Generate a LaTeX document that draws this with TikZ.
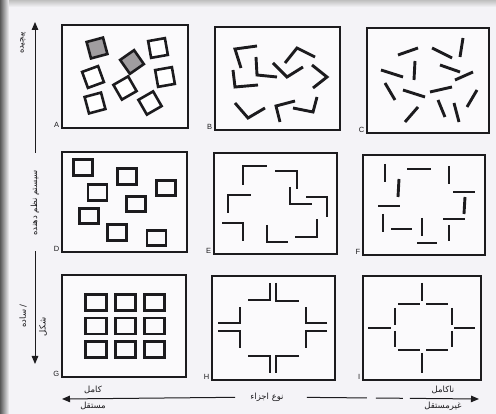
\documentclass[tikz,border=0pt]{standalone}
\usepackage{fontspec}
\newfontfamily\arabicfont[Script=Arabic]{DejaVu Sans}
\newfontfamily\latinsans{Liberation Sans}
\TeXXeTstate=1
\usetikzlibrary{arrows.meta,positioning}
\definecolor{sInk}{RGB}{28,27,30}
\definecolor{sPaper}{RGB}{244,243,247}
\definecolor{sShade}{RGB}{160,157,160}

\begin{document}
\begin{tikzpicture}[
	x=1pt, y=-1pt,
	>={Triangle[length=8pt,width=6.5pt]},
	panel/.style={draw=sInk, line width=1.1pt, fill=white!60!sPaper, inner sep=0pt},
	lbl/.style={font=\latinsans\fontsize{7.5}{8}\selectfont, text=sInk, inner sep=0.5pt, anchor=south east},
	tile/.style={draw=sInk, line width=2.6pt, inner sep=0pt, minimum size=17pt},
	box/.style={draw=sInk, line width=2.6pt, inner sep=0pt, minimum width=19pt, minimum height=15.5pt},
	bar/.style={draw=sInk, line width=2.9pt, line join=miter},
	axis/.style={draw=sInk, line width=1pt},
	axtext/.style={font=\arabicfont\fontsize{8.5}{9}\selectfont, text=sInk, inner sep=1pt}
	]
	% paper
	\fill[sPaper] (0,0) rectangle (496,414);
	\useasboundingbox (0,0) rectangle (496,414);
	\shade[left color=black!65, right color=sPaper] (0,0) rectangle (9,414);
	\shade[top color=gray!50, bottom color=sPaper] (9,0) rectangle (496,7);

	% panels
	\foreach \n/\cx/\cy/\w/\h in {A/125/76.5/126/103, B/277.5/78.5/125/103, C/428/80.5/122/105,
		D/124.5/202/125/100, E/275.5/203.5/123/101, F/424/205/122/100,
		G/124/326/124/102, H/273.5/328/123/104, I/422/328/118/104}
	{
		\node[panel, minimum width=\w pt, minimum height=\h pt] (p\n) at (\cx,\cy) {};
		\node[lbl] (l\n) at ([xshift=-1.5pt]p\n.south west) {\n};
	}

	% A: rotated tiles
	\foreach \i/\x/\y/\a/\f in {1/97/48/15/sShade, 2/132/62/35/sShade, 3/158/48/10/white,
		4/93/77/20/white, 5/125/88/30/white, 6/165/77/10/white,
		7/95/103/15/white, 8/150/103/30/white}
	\node[tile, rotate=\a, fill=\f] (a\i) at (\x,\y) {};

	% B: bent pieces
	\foreach \a/\b/\c/\d/\e/\f in {257/46/235/49/241/68, 256/57/257/75/277/77,
		233/70/235/87/258/85, 285/63/297/48/315/57, 273/63/287/77/303/67,
		312/65/327/77/313/88, 235/103/248/118/265/108, 280/122/276/106/295/101,
		293/108/313/112/317/97}
	\draw[bar] (\a,\b) -- (\c,\d) -- (\e,\f);

	% C: loose sticks
	\foreach \a/\b/\c/\d in {398/55/418/48, 432/48/452/58, 463/38/460/57,
		415/61/414/80, 381/70/403/77, 440/65/460/72, 455/80/473/72,
		385/83/395/100, 403/90/425/97, 430/92/452/87, 477/90/467/107,
		418/107/405/122, 438/100/445/117, 454/103/459/122}
	\draw[bar] (\a,\b) -- (\c,\d);

	% D: scattered boxes
	\foreach \i/\x/\y in {1/83/167.5, 2/127/176.5, 3/97.5/192.5, 4/166/188,
		5/136/204, 6/89/216, 7/117/232.5, 8/156.5/238}
	\node[box] (d\i) at (\x,\y) {};

	% E: corner brackets
	\foreach \a/\b/\c/\d/\e/\f in {243/185/243/166/267/166, 275/171/297/171/297/189,
		290/187/290/204/312/204, 306/197/327/197/327/217,
		228/213/228/195/251/195, 222/223/243/223/243/241,
		267/225/267/242/288/242, 295/237/317/237/317/219}
	\draw[bar] (\a,\b) -- (\c,\d) -- (\e,\f);

	% F: straight sticks
	\foreach \a/\b/\c/\d in {385/164/385/182, 407/169/431/169, 449/166/449/184,
		399/179/398/197, 453/192/475/192, 378/206/400/206, 465/197/464/214,
		383/214/383/232, 391/229/412/229, 422/218/422/236, 443/219/465/219,
		449/225/449/241, 417/243/437/243}
	\draw[bar] (\a,\b) -- (\c,\d);

	% G: grid of boxes
	\foreach \c [count=\ci] in {96,125.5,154.5}
	\foreach \r [count=\ri] in {302.5,326,349.5}
	\node[box, minimum width=20.5pt, minimum height=16pt] (g\ci\ri) at (\c,\r) {};

	% H: joined corners
	\foreach \a/\b/\c/\d/\e/\f in {248/300/270/300/270/283, 276/283/276/301/299/301,
		218/323/240/323/240/307, 218/331/240/331/240/348,
		327/323/306/323/306/307, 327/331/306/331/306/348,
		248/356/270/356/270/373, 299/356/276/356/276/373}
	\draw[bar] (\a,\b) -- (\c,\d) -- (\e,\f);

	% I: separated ring
	\foreach \a/\b/\c/\d in {422/283/422/301, 398/304/420/304, 426/304/448/304,
		395/308/395/325, 395/331/395/347, 368/328/391/328,
		452/308/452/325, 452/331/452/347, 454/328/475/328,
		398/350/420/350, 426/350/448/350, 422/353/422/373}
	\draw[bar] (\a,\b) -- (\c,\d);

	% vertical axis
	\coordinate (vTop) at (35,22);
	\coordinate (vBot) at (35,364);
	\node[axtext, rotate=90] (sys) at (35,203) {\beginR سیستم نظم دهنده\endR};
	\node[axtext, rotate=90] (cplx) at (23,43) {\beginR پیچیده\endR};
	\node[axtext, rotate=90] (smpl) at (23,316) {\beginR / ساده\endR};
	\node[axtext, rotate=90] (shp) at (43,327) {\beginR شکل\endR};
	\draw[axis,->,shorten <=16pt] (sys) -- (vTop);
	\draw[axis,->,shorten <=14pt] (sys) -- (vBot);

	% horizontal axis
	\coordinate (hLeft) at (62,399);
	\coordinate (hRight) at (479,399);
	\node[axtext] (kind) at (267,397) {\beginR نوع اجزاء\endR};
	\node[axtext] (full) at (93,390) {\beginR کامل\endR};
	\node[axtext] (indep) at (93,406) {\beginR مستقل\endR};
	\node[axtext] (part) at (443,390) {\beginR ناکامل\endR};
	\node[axtext] (dep) at (443,406) {\beginR غیرمستقل\endR};
	\draw[axis,->,shorten <=14pt] (kind) -- (hLeft);
	\draw[axis,->,shorten <=22pt,dash pattern=on 60pt off 9pt on 27pt off 7pt on 200pt] (kind) -- (hRight);
\end{tikzpicture}
\end{document}
